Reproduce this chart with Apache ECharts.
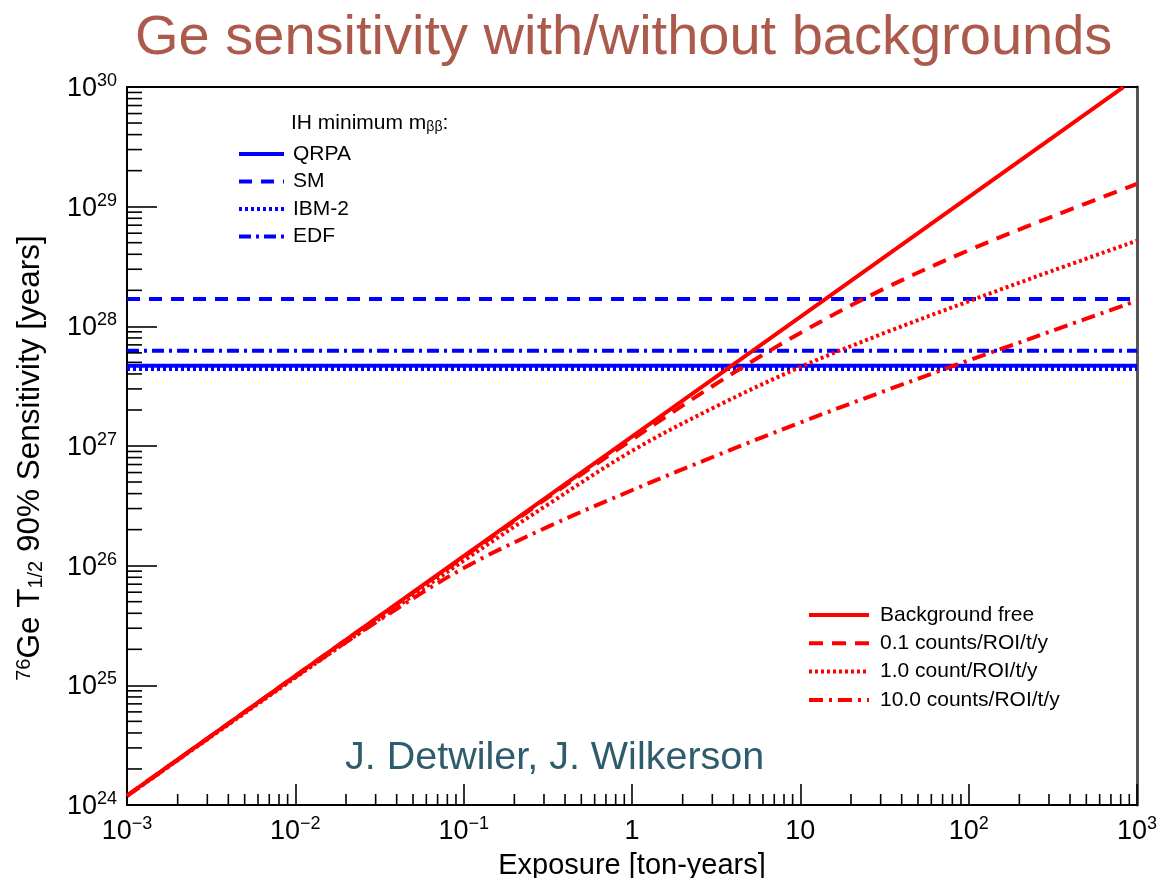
<!DOCTYPE html>
<html>
<head>
<meta charset="utf-8">
<script src="https://cdn.jsdelivr.net/npm/echarts@6/dist/echarts.min.js"></script>
<style>
  html, body { margin: 0; padding: 0; background: #ffffff; }
  #chart { width: 1160px; height: 878px; }
</style>
</head>
<body>
<div id="chart"></div>
<script>
// Exposure axis [ton-years] and half-life sensitivity axis [years]
const X_MIN = 1e-3, X_MAX = 1e3;
const Y_MIN = 1e24, Y_MAX = 1e30;

// Exposure grid (half-decade steps) for the background curves
const exposure = [0.001, 0.00316, 0.01, 0.0316, 0.1, 0.316, 1, 3.16, 10, 31.6, 100, 316, 1000];

// Background-free sensitivity (straight line, runs up to the top of the frame)
const bkgFreeExposure = [0.001, 0.01, 0.1, 1, 10, 100, 830];
const bkgFree = [1.2e24, 1.2e25, 1.2e26, 1.2e27, 1.2e28, 1.2e29, 9.96e29];

// Sensitivity with backgrounds (counts/ROI/t/y)
const bkg0p1 = [1.2e24, 3.79e24, 1.2e25, 3.78e25, 1.18e26, 3.7e26, 1.13e27, 3.31e27, 8.8e27, 2.07e28, 4.32e28, 8.3e28, 1.55e29];
const bkg1p0 = [1.19e24, 3.72e24, 1.16e25, 3.59e25, 1.10e26, 3.24e26, 9.1e26, 2.14e27, 4.57e27, 8.8e27, 1.62e28, 2.92e28, 5.19e28];
const bkg10 = [1.19e24, 3.76e24, 1.175e25, 3.51e25, 9.55e25, 2.11e26, 4.27e26, 8.3e26, 1.57e27, 2.88e27, 5.19e27, 9.2e27, 1.64e28];

// IH minimum m_bb half-life for each nuclear matrix element model
const nmeNames = ['QRPA', 'SM', 'IBM-2', 'EDF'];
const nmeHalfLife = [4.69e27, 1.69e28, 4.40e27, 6.26e27];
const nmeDash = ['solid', [13, 9], [3, 3], [12, 5, 3, 5]];

const bkgNames = ['Background free', '0.1 counts/ROI/t/y', '1.0 count/ROI/t/y', '10.0 counts/ROI/t/y'];
const bkgDash = ['solid', [14, 9], [3, 3], [14, 6, 3, 6]];

// Minor tick positions (2..9 within each decade)
const xMinorTicks = [];
for (let k = -3; k < 3; k++) for (let m = 2; m <= 9; m++) xMinorTicks.push(m * Math.pow(10, k));
const yMinorTicks = [];
for (let k = 24; k < 30; k++) for (let m = 2; m <= 9; m++) yMinorTicks.push(Number(m + 'e' + k));

const FONT = '"Liberation Sans", Arial, Helvetica, sans-serif';
const BLUE = '#0000ff';
const RED = '#ff0000';

function pairs(xs, ys) { return xs.map((x, i) => [x, ys[i]]); }

function expLabel(value) {
  const e = Math.round(Math.log10(value));
  if (e === 0) return '{b|1}';
  if (e === 1) return '{b|10}';
  return '{b|10}{e|' + String(e).replace('-', '\u2212') + '}';
}

const labelRich = {
  b: { fontSize: 27, lineHeight: 30, fontFamily: FONT, color: '#000', verticalAlign: 'bottom' },
  e: { fontSize: 18, lineHeight: 16, fontFamily: FONT, color: '#000', verticalAlign: 'top' }
};

function minorTicks(values, dir) {
  return {
    type: 'custom',
    silent: true,
    clip: false,
    z: 4,
    data: values.map(v => dir === 'x' ? [v, Y_MIN] : [X_MIN, v]),
    renderItem: function (params, api) {
      const p = api.coord([api.value(0), api.value(1)]);
      const q = dir === 'x' ? [p[0], p[1] - 11] : [p[0] + 15, p[1]];
      return {
        type: 'line',
        shape: { x1: p[0], y1: p[1], x2: q[0], y2: q[1] },
        style: { stroke: '#000', lineWidth: 1.6 }
      };
    }
  };
}

const series = [];
nmeNames.forEach((name, i) => {
  series.push({
    name: name,
    type: 'line',
    symbol: 'none',
    showSymbol: false,
    z: 2,
    data: [[X_MIN, nmeHalfLife[i]], [X_MAX, nmeHalfLife[i]]],
    lineStyle: { color: BLUE, width: 4, type: nmeDash[i] },
    itemStyle: { color: BLUE }
  });
});
const bkgData = [pairs(bkgFreeExposure, bkgFree), pairs(exposure, bkg0p1), pairs(exposure, bkg1p0), pairs(exposure, bkg10)];
bkgNames.forEach((name, i) => {
  series.push({
    name: name,
    type: 'line',
    symbol: 'none',
    showSymbol: false,
    smooth: i === 0 ? false : 0.35,
    z: 3,
    data: bkgData[i],
    lineStyle: { color: RED, width: 4, type: bkgDash[i] },
    itemStyle: { color: RED }
  });
});
series.push(minorTicks(xMinorTicks, 'x'));
series.push(minorTicks(yMinorTicks, 'y'));

const legendCommon = {
  orient: 'vertical',
  padding: 0,
  itemHeight: 14,
  selectedMode: false,
  itemStyle: { color: 'rgba(0,0,0,0)', borderWidth: 0, opacity: 0 },
  lineStyle: { width: 4 }
};

const chart = echarts.init(document.getElementById('chart'), null, { renderer: 'canvas' });
chart.setOption({
  animation: false,
  backgroundColor: '#ffffff',
  title: [
    {
      text: 'Ge sensitivity with/without backgrounds',
      left: 135, top: 11, padding: 0,
      textStyle: { fontSize: 56, fontWeight: 'normal', color: '#ab5a4b', fontFamily: FONT }
    },
    {
      text: 'IH minimum m{s|\u03b2\u03b2}:',
      left: 291, top: 113, padding: 0,
      textStyle: {
        fontSize: 21, fontWeight: 'normal', color: '#000', fontFamily: FONT,
        rich: { s: { fontSize: 14, fontFamily: FONT, color: '#000', verticalAlign: 'bottom', lineHeight: 14, padding: [8, 0, 0, 0] } }
      }
    },
    {
      text: 'J. Detwiler, J. Wilkerson',
      left: 345, top: 738, padding: 0,
      textStyle: { fontSize: 39.5, fontWeight: 'normal', color: '#2f5c6c', fontFamily: FONT }
    }
  ],
  legend: [
    Object.assign({}, legendCommon, {
      data: nmeNames,
      left: 237, top: 143,
      itemWidth: 45, itemGap: 5.5,
      textStyle: { fontSize: 21, lineHeight: 22, color: '#000', fontFamily: FONT, padding: [0, 0, 0, 4] }
    }),
    Object.assign({}, legendCommon, {
      data: bkgNames,
      left: 807, top: 604,
      itemWidth: 60, itemGap: 6.3,
      textStyle: { fontSize: 21, lineHeight: 22, color: '#000', fontFamily: FONT, padding: [0, 0, 0, 6] }
    })
  ],
  grid: { left: 127, right: 23, top: 87, bottom: 73, containLabel: false, outerBoundsMode: 'none' },
  xAxis: [
    {
      type: 'log', logBase: 10, min: X_MIN, max: X_MAX, splitNumber: 6,
      name: 'Exposure [ton-years]', nameLocation: 'middle', nameGap: 46,
      nameTextStyle: { fontSize: 29, color: '#000', fontFamily: FONT },
      axisLine: { show: true, onZero: false, lineStyle: { color: '#000', width: 2 } },
      axisTick: { show: true, inside: true, length: 21, lineStyle: { color: '#000', width: 1.6 } },
      axisLabel: { margin: 10, formatter: expLabel, rich: labelRich, showMinLabel: true, showMaxLabel: true, hideOverlap: false },
      splitLine: { show: false }
    },
    {
      type: 'log', logBase: 10, min: X_MIN, max: X_MAX, position: 'top',
      axisLine: { show: true, onZero: false, lineStyle: { color: '#000', width: 2 } },
      axisTick: { show: false }, axisLabel: { show: false }, splitLine: { show: false }
    }
  ],
  yAxis: [
    {
      type: 'log', logBase: 10, min: Y_MIN, max: Y_MAX, splitNumber: 6,
      name: '{s|76}Ge T{d|1/2} 90% Sensitivity [years]',
      nameLocation: 'middle', nameGap: 81, nameRotate: 90,
      nameTextStyle: {
        fontSize: 31.5, color: '#000', fontFamily: FONT, padding: [0, 24, 0, 0],
        rich: {
          s: { fontSize: 20, fontFamily: FONT, color: '#000', verticalAlign: 'top', lineHeight: 19 },
          d: { fontSize: 20, fontFamily: FONT, color: '#000', verticalAlign: 'bottom', lineHeight: 19, padding: [15, 0, 0, 0] }
        }
      },
      axisLine: { show: true, onZero: false, lineStyle: { color: '#000', width: 2 } },
      axisTick: { show: true, inside: true, length: 30, lineStyle: { color: '#000', width: 1.6 } },
      axisLabel: { margin: 10, formatter: expLabel, rich: labelRich, showMinLabel: true, showMaxLabel: true, hideOverlap: false },
      splitLine: { show: false }
    },
    {
      type: 'log', logBase: 10, min: Y_MIN, max: Y_MAX, position: 'right',
      axisLine: { show: true, onZero: false, lineStyle: { color: '#555', width: 3 } },
      axisTick: { show: false }, axisLabel: { show: false }, splitLine: { show: false }
    }
  ],
  series: series
});
</script>
</body>
</html>
